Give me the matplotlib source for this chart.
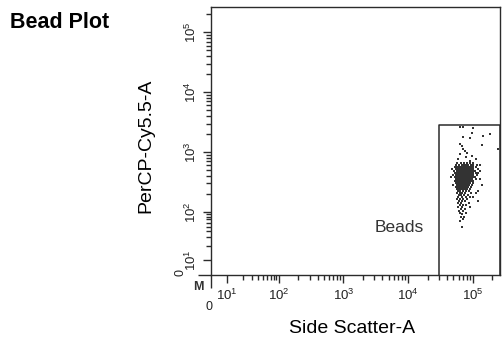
import numpy as np
import matplotlib
matplotlib.use("Agg")
import matplotlib.pyplot as plt
from matplotlib.ticker import FixedLocator, FixedFormatter, NullFormatter
from matplotlib.lines import TICKDOWN, TICKLEFT

plt.rcParams['font.family'] = ['Liberation Sans', 'DejaVu Sans']
plt.rcParams['mathtext.fontset'] = 'custom'
plt.rcParams['mathtext.rm'] = 'Liberation Sans'
plt.rcParams['mathtext.it'] = 'Liberation Sans:italic'
plt.rcParams['mathtext.bf'] = 'Liberation Sans:bold'

# ---- data ----
AXIS_MAX = 262144
major_ticks = [10, 100, 1000, 10000, 100000]
major_labels = ['$10^{1}$', '$10^{2}$', '$10^{3}$', '$10^{4}$', '$10^{5}$']

# "Beads" gate: x from ~30k to max, y from 0 to ~2.9k
gate_x = [30100, 30100, AXIS_MAX, AXIS_MAX]
gate_y = [0, 2870, 2870, 0]

# bead events, grouped per PerCP-Cy5.5 level (y) -> side scatter values (x)
bead_y = [2600, 2500, 2060, 1980, 1840, 1770, 1700, 1350, 1300, 1250, 1110, 1030,
          950, 915, 847, 820, 754, 720,
          671, 621, 575, 532, 492, 456, 422, 391, 361, 334, 310, 287, 265, 245,
          227, 210, 195, 180, 167, 154, 143, 132, 122, 113, 105, 97, 90, 80, 71, 66, 48]
bead_x = [
    [62400, 69500],
    [98900],
    [95400],
    [181000],
    [141000],
    [69500],
    [88900],
    [62400],
    [136000],
    [67000],
    [69500, 240000],
    [74500],
    [80000],
    [62400],
    [95400],
    [77200],
    [58200, 110000],
    [88900],
    # dense core
    [56100, 64700, 71900, 80000, 88900, 102000],
    [54200, 60300, 67000, 71900, 77200, 82800, 92200, 98900, 114000, 127000],
    [52300, 56100, 60300, 64700, 69500, 74500, 80000, 85900, 92200, 98900, 110000],
    [47000, 54200, 58200, 62400, 67000, 71900, 77200, 82800, 88900, 95400, 102000, 118000],
    [50500, 56100, 60300, 64700, 69500, 74500, 80000, 85900, 92200, 98900, 106000, 131000],
    [52300, 56100, 60300, 64700, 69500, 74500, 80000, 85900, 92200, 98900, 110000, 122000],
    [48700, 54200, 58200, 62400, 67000, 71900, 77200, 82800, 88900, 95400, 102000, 114000],
    [45400, 52300, 56100, 60300, 64700, 69500, 74500, 80000, 85900, 92200, 98900, 106000],
    [54200, 58200, 62400, 67000, 71900, 77200, 82800, 88900, 95400, 110000, 127000],
    [52300, 56100, 60300, 64700, 69500, 74500, 80000, 85900, 92200, 102000],
    [54200, 58200, 62400, 67000, 71900, 77200, 82800, 88900, 98900],
    [48700, 56100, 60300, 64700, 69500, 74500, 80000, 85900, 95400, 136000],
    [54200, 58200, 62400, 67000, 71900, 77200, 82800, 92200],
    [56100, 60300, 64700, 69500, 74500, 80000, 88900],
    # tail
    [58200, 62400, 69500, 77200, 85900, 122000],
    [56100, 62400, 67000, 74500, 92200, 110000],
    [60300, 64700, 71900, 82800],
    [58200, 67000, 77200, 88900, 102000],
    [56100, 62400, 69500, 80000],
    [60300, 67000, 74500, 118000],
    [58200, 64700, 85900],
    [62400, 69500, 77200],
    [58200, 67000, 88900],
    [64700, 74500],
    [60300, 69500],
    [62400, 77200],
    [67000],
    [64700, 71900],
    [69500],
    [62400],
    [67000],
]


# ---- biexponential-like axis: linear below 10, compressed 10..100, log above ----
def fwd(v):
    v = np.asarray(v, dtype=float)
    lin = 0.95 + v * 0.025
    mid = 1.2 + (np.log10(np.clip(v, 10, 100)) - 1) * 0.8
    hi = np.log10(np.clip(v, 100, None))
    return np.where(v <= 10, lin, np.where(v <= 100, mid, hi))


def inv(t):
    t = np.asarray(t, dtype=float)
    lin = (t - 0.95) / 0.025
    mid = 10 ** (1 + (np.clip(t, 1.2, 2) - 1.2) / 0.8)
    hi = 10 ** np.clip(t, 2, 12)
    return np.where(t <= 1.2, lin, np.where(t <= 2, mid, hi))


minor_ticks = []
for dec in [10, 100, 1000, 10000, 100000]:
    for m in range(2, 10):
        if dec * m <= AXIS_MAX:
            minor_ticks.append(dec * m)

fig = plt.figure(figsize=(5.03, 3.39), dpi=100)
ax = fig.add_axes([0.419, 0.1888, 0.575, 0.790])

ax.set_xscale('function', functions=(fwd, inv))
ax.set_yscale('function', functions=(fwd, inv))
ax.set_xlim(0, AXIS_MAX)
ax.set_ylim(0, AXIS_MAX)

line_col = '#2b2b2b'
for s in ax.spines.values():
    s.set_color(line_col)
    s.set_linewidth(1.0)

for axis in (ax.xaxis, ax.yaxis):
    axis.set_major_locator(FixedLocator(major_ticks))
    axis.set_major_formatter(FixedFormatter(major_labels))
    axis.set_minor_locator(FixedLocator(minor_ticks))
    axis.set_minor_formatter(NullFormatter())

ax.tick_params(which='major', length=5.8, width=1.0, color=line_col,
               labelsize=9.5, labelcolor='#222222')
ax.tick_params(axis='x', which='major', pad=3.5)
ax.tick_params(axis='y', which='major', pad=2.5)
ax.tick_params(which='minor', length=3.6, width=1.0, color=line_col)
plt.setp(ax.get_yticklabels(), rotation=90, va='center')

# long zero ticks on both axes
ax.plot([0], [0], transform=ax.get_xaxis_transform(), marker=TICKDOWN, ms=9.4,
        mew=1.0, color=line_col, clip_on=False)
ax.plot([0], [0], transform=ax.get_yaxis_transform(), marker=TICKLEFT, ms=9.4,
        mew=1.0, color=line_col, clip_on=False)

# events
for yv, xs in zip(bead_y, bead_x):
    ax.plot(xs, [yv] * len(xs), ls='none', marker='s', ms=1.9, mew=0,
            color='#333333')

# gate
ax.plot(gate_x, gate_y, color=line_col, lw=1.1, clip_on=False)
ax.text(0.737, 0.160, 'Beads', transform=ax.transAxes, ha='right',
        va='baseline', fontsize=12.5, color='#333333')

# texts around the plot
W, H = 503, 339
fig.text(10 / W, 1 - 28 / H, 'Bead Plot', fontsize=15.5, fontweight='bold',
         ha='left', va='baseline')
fig.text(146 / W, 1 - 146 / H, 'PerCP-Cy5.5-A', rotation=90, fontsize=14,
         ha='center', va='center')
fig.text(352.5 / W, 1 - 333 / H, 'Side Scatter-A', fontsize=14,
         ha='center', va='baseline')
fig.text(198.5 / W, 1 - 287.5 / H, 'M', fontsize=9, fontweight='bold',
         ha='center', va='center', color='#333333')
fig.text(209.5 / W, 1 - 307.5 / H, '0', fontsize=9, ha='center', va='center',
         color='#222222')
fig.text(181 / W, 1 - 273 / H, '0', fontsize=9, rotation=90,
         ha='center', va='center', color='#222222')

fig.savefig('out.png', dpi=100)
